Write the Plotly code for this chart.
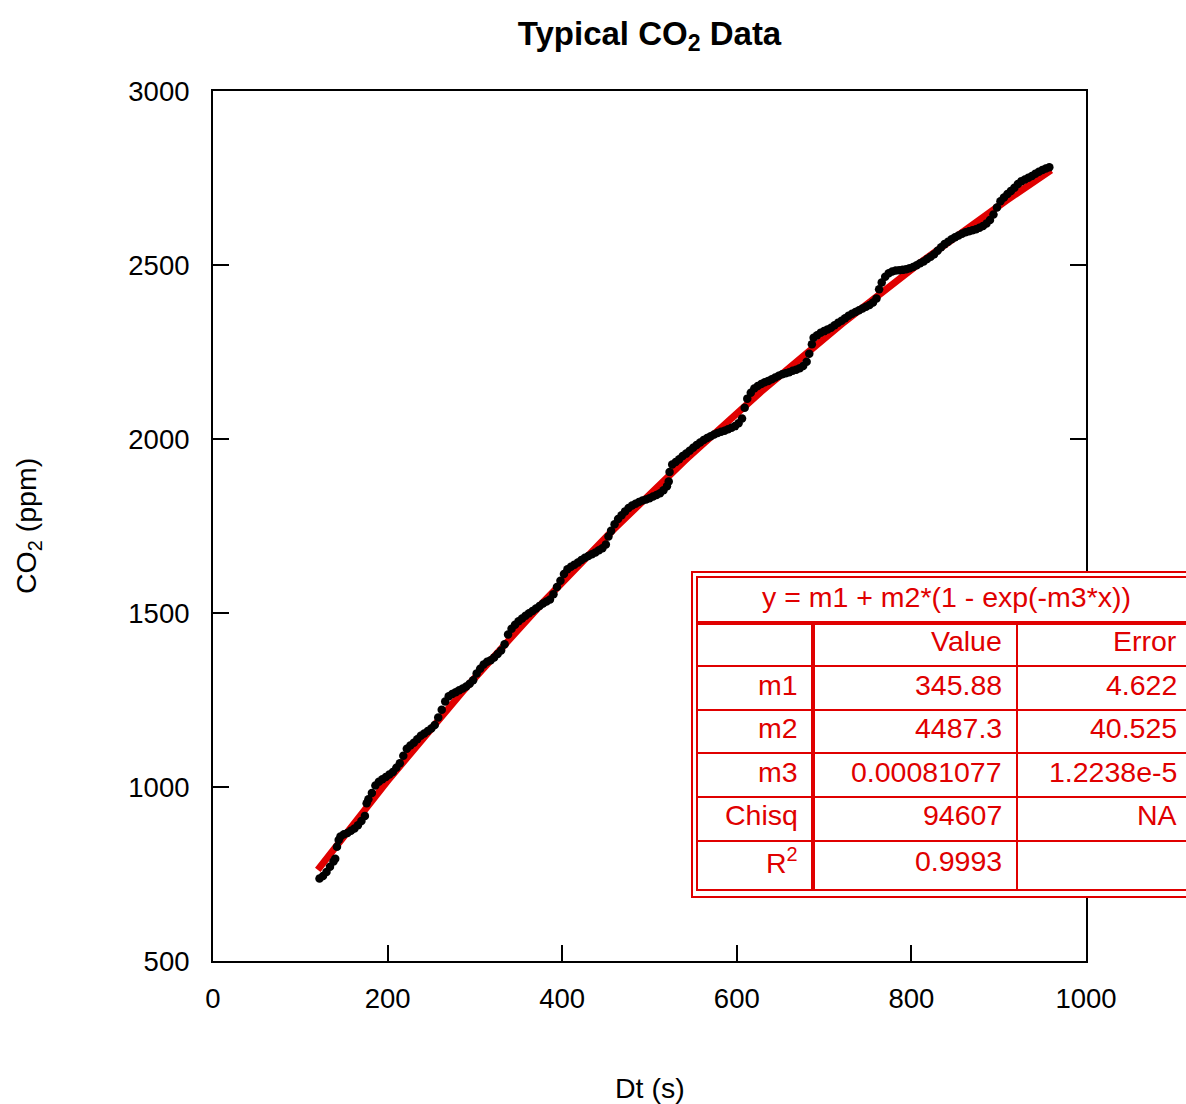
import numpy as np
import plotly.graph_objects as go

# Measured CO2 concentration vs elapsed time
time_s = [
    122, 126, 130, 134, 138, 140, 142, 144, 146, 150, 154, 158, 162, 166, 170, 174,
    176, 178, 182, 186, 190, 194, 198, 202, 206, 210, 214, 218, 222, 226, 230, 234,
    238, 242, 246, 250, 254, 258, 262, 266, 270, 274, 278, 282, 286, 290, 294, 298,
    302, 306, 310, 314, 318, 322, 326, 330, 334, 338, 342, 346, 350, 354, 358, 362,
    366, 370, 374, 378, 382, 386, 390, 394, 398, 402, 406, 410, 414, 418, 422, 426,
    430, 434, 438, 442, 446, 450, 453, 456, 460, 464, 468, 472, 476, 480, 484, 488,
    492, 496, 500, 504, 508, 512, 516, 520, 522, 523, 526, 530, 534, 538, 542, 546,
    550, 554, 558, 562, 566, 570, 574, 578, 582, 586, 590, 594, 598, 602, 606, 609,
    612, 616, 620, 624, 628, 632, 636, 640, 644, 648, 652, 656, 660, 664, 668, 672,
    676, 680, 683, 686, 688, 692, 696, 700, 704, 708, 712, 716, 720, 724, 728, 732,
    736, 740, 744, 748, 752, 756, 760, 763, 766, 770, 774, 778, 782, 786, 790, 794,
    798, 802, 806, 810, 814, 818, 822, 826, 830, 834, 838, 842, 846, 850, 854, 858,
    862, 866, 870, 874, 878, 882, 886, 890, 894, 898, 902, 906, 910, 914, 918, 922,
    926, 930, 934, 938, 942, 946, 950, 954, 958,
]
co2_ppm = [
    737, 744, 756, 771, 786, 794, 828, 848, 858, 864, 868, 874, 881, 890, 902, 917,
    953, 965, 983, 1004, 1015, 1022, 1029, 1036, 1043, 1055, 1068, 1090, 1110, 1119, 1127, 1137,
    1147, 1154, 1161, 1168, 1178, 1200, 1222, 1246, 1261, 1267, 1272, 1278, 1283, 1289, 1297, 1307,
    1326, 1340, 1352, 1360, 1364, 1372, 1382, 1392, 1410, 1438, 1455, 1466, 1476, 1484, 1492, 1499,
    1506, 1513, 1520, 1527, 1533, 1539, 1554, 1575, 1593, 1612, 1626, 1633, 1639, 1645, 1652, 1659,
    1664, 1669, 1674, 1680, 1686, 1697, 1720, 1736, 1755, 1770, 1781, 1792, 1802, 1809, 1814, 1819,
    1823, 1826, 1830, 1835, 1839, 1844, 1853, 1864, 1878, 1905, 1927, 1934, 1942, 1951, 1958, 1966,
    1975, 1983, 1990, 1997, 2003, 2008, 2013, 2017, 2021, 2024, 2028, 2032, 2037, 2045, 2059, 2090,
    2116, 2133, 2145, 2152, 2158, 2163, 2167, 2172, 2177, 2182, 2186, 2189, 2192, 2196, 2199, 2203,
    2210, 2222, 2245, 2272, 2291, 2298, 2305, 2310, 2315, 2320, 2327, 2334, 2340, 2347, 2354, 2360,
    2365, 2370, 2375, 2380, 2385, 2392, 2404, 2430, 2450, 2466, 2476, 2481, 2484, 2485, 2486, 2488,
    2491, 2494, 2499, 2505, 2510, 2517, 2524, 2531, 2541, 2551, 2560, 2567, 2574, 2580, 2585, 2590,
    2594, 2597, 2600, 2603, 2607, 2612, 2619, 2629, 2645, 2665, 2683, 2694, 2704, 2713, 2722, 2733,
    2741, 2746, 2751, 2756, 2762, 2768, 2773, 2777, 2781,
]

# Curve-fit results: y = m1 + m2*(1 - exp(-m3*x))
param_names = ["m1", "m2", "m3", "Chisq", "R<sup>2</sup>"]
param_values = [345.88, 4487.3, 0.00081077]
value_texts = ["345.88", "4487.3", "0.00081077", "94607", "0.9993"]
error_texts = ["4.622", "40.525", "1.2238e-5", "NA", ""]
fit_equation = "y = m1 + m2*(1 - exp(-m3*x))"

x_ticks = [0, 200, 400, 600, 800, 1000]
y_ticks = [500, 1000, 1500, 2000, 2500, 3000]

RED = "#e00000"
FONT = "Liberation Sans, Arial, Helvetica, sans-serif"

m1, m2, m3 = param_values
fit_x = np.linspace(min(time_s) - 2, max(time_s) + 2, 300)
fit_y = m1 + m2 * (1 - np.exp(-m3 * fit_x))

fig = go.Figure()
fig.add_trace(go.Scatter(
    x=fit_x, y=fit_y, mode="lines",
    line=dict(color=RED, width=7), hoverinfo="skip", showlegend=False,
))
fig.add_trace(go.Scatter(
    x=time_s, y=co2_ppm, mode="markers",
    marker=dict(color="black", size=8.5), showlegend=False,
))

W, H = 1186, 1104
L, R, T, B = 213, 100, 91, 143
PW, PH = W - L - R, H - T - B


def fx(px):
    return (px - L) / PW


def fy(py):
    return (H - B - py) / PH


axis_common = dict(
    showline=True, linecolor="black", linewidth=2,
    ticks="inside", ticklen=16, tickwidth=2, tickcolor="black",
    showgrid=False, zeroline=False,
    tickfont=dict(family=FONT, size=27.5, color="black"),
)

# bottom axis ticked, top edge plain; left axis ticked on both sides
fig.update_xaxes(range=[0, 1000], tickvals=x_ticks, mirror=True,
                 ticklabelstandoff=12, **axis_common)
fig.update_yaxes(range=[500, 3000], tickvals=y_ticks, mirror="ticks",
                 ticklabelstandoff=16, **axis_common)

shapes = []
# Fit-results box: double outer border, then the grid lines
shapes.append(dict(type="rect", xref="paper", yref="paper",
                   x0=fx(692), x1=fx(1260), y0=fy(572), y1=fy(897),
                   line=dict(color=RED, width=2), fillcolor="white", layer="above"))
shapes.append(dict(type="rect", xref="paper", yref="paper",
                   x0=fx(697), x1=fx(1260), y0=fy(577), y1=fy(890),
                   line=dict(color=RED, width=2), layer="above"))
shapes.append(dict(type="line", xref="paper", yref="paper",
                   x0=fx(697), x1=fx(1260), y0=fy(623), y1=fy(623),
                   line=dict(color=RED, width=4), layer="above"))
for row_y in [666, 710, 753, 797, 841]:
    shapes.append(dict(type="line", xref="paper", yref="paper",
                       x0=fx(697), x1=fx(1260), y0=fy(row_y), y1=fy(row_y),
                       line=dict(color=RED, width=2), layer="above"))
shapes.append(dict(type="line", xref="paper", yref="paper",
                   x0=fx(813), x1=fx(813), y0=fy(623), y1=fy(890),
                   line=dict(color=RED, width=4), layer="above"))
shapes.append(dict(type="line", xref="paper", yref="paper",
                   x0=fx(1017), x1=fx(1017), y0=fy(623), y1=fy(890),
                   line=dict(color=RED, width=2), layer="above"))

annotations = []
tfont = dict(family=FONT, size=28.5, color=RED)


def cell(text, px, py, anchor="right"):
    annotations.append(dict(text=text, xref="paper", yref="paper",
                            x=fx(px), y=fy(py), xanchor=anchor, yanchor="middle",
                            showarrow=False, font=tfont))


cell(fit_equation, 946, 597, anchor="center")
cell("Value", 1004, 641)
cell("Error", 1179, 641)
row_centers = [685, 728, 772, 815, 861]
for name, val, err, cy in zip(param_names, value_texts, error_texts, row_centers):
    cell(name, 800, cy)
    cell(val, 1004, cy)
    if err:
        cell(err, 1179, cy)

# Axis titles
annotations.append(dict(text="Dt (s)", xref="paper", yref="paper",
                        x=0.5, y=fy(1088), xanchor="center", yanchor="middle",
                        showarrow=False, font=dict(family=FONT, size=28.5, color="black")))
annotations.append(dict(text="CO<sub>2</sub> (ppm)", xref="paper", yref="paper",
                        x=fx(28), y=fy(526), xanchor="center", yanchor="middle",
                        textangle=-90, showarrow=False,
                        font=dict(family=FONT, size=28.5, color="black")))

fig.update_layout(
    width=W, height=H,
    margin=dict(l=L, r=R, t=T, b=B, pad=0),
    paper_bgcolor="white", plot_bgcolor="white",
    title=dict(text="<b>Typical CO<sub>2</sub> Data</b>", x=0.5, xref="paper",
               y=1 - 33 / H, yref="container", xanchor="center", yanchor="middle",
               font=dict(family=FONT, size=33, color="black")),
    shapes=shapes, annotations=annotations,
    showlegend=False,
)

fig.write_html("out.html")
